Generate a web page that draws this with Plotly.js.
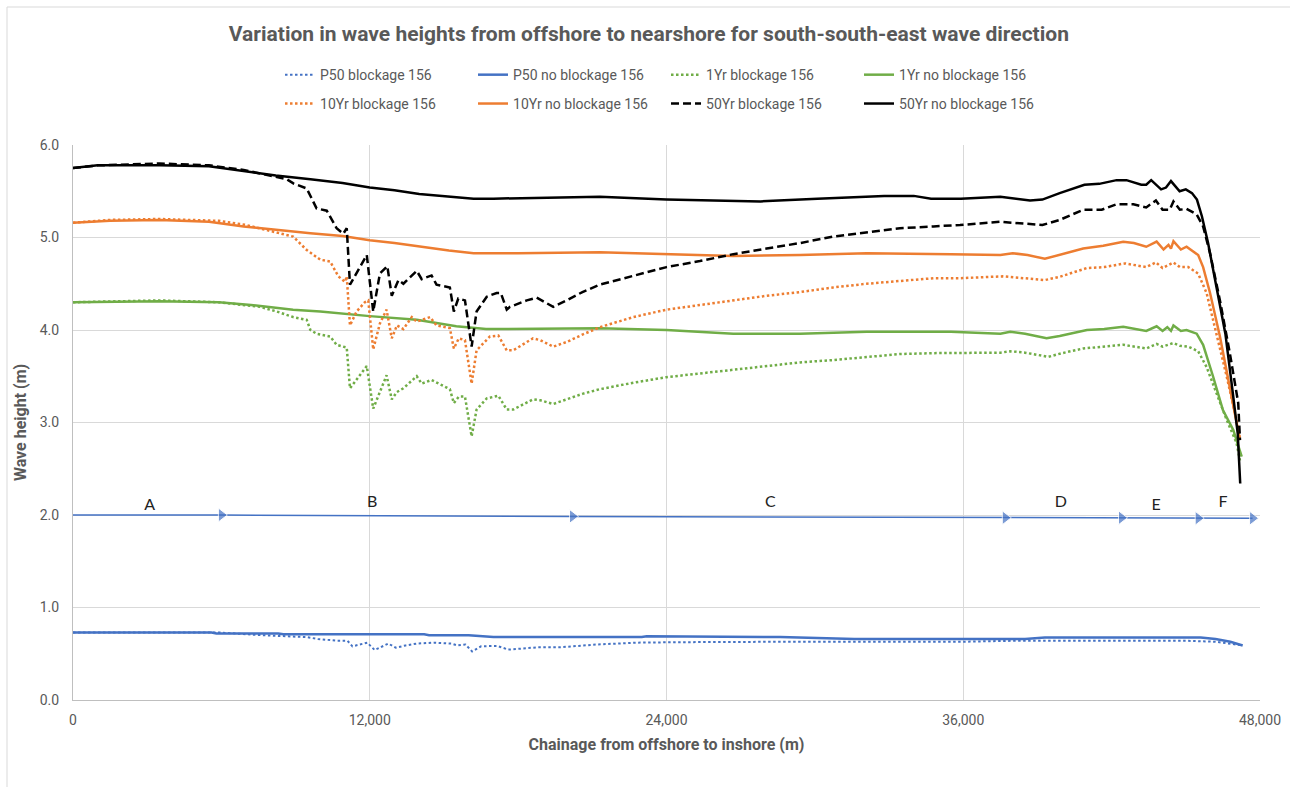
<!DOCTYPE html>
<html>
<head>
<meta charset="utf-8">
<script src="https://cdn.plot.ly/plotly-3.0.1.min.js"></script>
<style>
  html, body { margin: 0; padding: 0; background: #ffffff; }
  #chart { width: 1290px; height: 787px; }
</style>
</head>
<body>
<div id="chart"></div>
<script>
// ---------- Data (chainage in m, wave height in m) ----------
const p50BlockX = [0, 5900, 7670, 8500, 9440, 9900, 10700, 11100, 11300, 11900, 12200, 12750, 13050, 13450, 13900, 14600, 15300, 15550, 15870, 16140, 16500, 17150, 17600, 18100, 18800, 19700, 21200, 22800, 24500, 29000, 36000, 38000, 45000, 46200, 46800, 47300];
const p50BlockY = [0.73, 0.73, 0.70, 0.69, 0.68, 0.66, 0.64, 0.64, 0.58, 0.62, 0.54, 0.61, 0.565, 0.59, 0.61, 0.62, 0.61, 0.59, 0.60, 0.525, 0.58, 0.585, 0.545, 0.555, 0.57, 0.57, 0.60, 0.62, 0.625, 0.63, 0.63, 0.64, 0.64, 0.63, 0.61, 0.59];

const p50NoBlockX = [0, 5600, 5800, 8300, 8500, 14200, 14400, 16000, 17000, 23000, 23200, 28600, 31600, 38500, 39300, 45600, 46200, 46800, 47300];
const p50NoBlockY = [0.73, 0.73, 0.72, 0.72, 0.71, 0.71, 0.70, 0.70, 0.68, 0.68, 0.69, 0.68, 0.66, 0.66, 0.675, 0.675, 0.66, 0.63, 0.59];

const yr1BlockX = [0, 3500, 5900, 7560, 8240, 8900, 9450, 9600, 9850, 10400, 10660, 11070, 11200, 11880, 12140, 12680, 12890, 13100, 13360, 13900, 14100, 14500, 15240, 15400, 15600, 15850, 16120, 16320, 16730, 17200, 17540, 17800, 18600, 18900, 19420, 19960, 20600, 21300, 22660, 24000, 25350, 26700, 28050, 29400, 30740, 32100, 33440, 34800, 35870, 37500, 37900, 38500, 39440, 40000, 40850, 41700, 42470, 43400, 43820, 44060, 44500, 44760, 45100, 45500, 45840, 46250, 46650, 47050, 47190];
const yr1BlockY = [4.30, 4.32, 4.30, 4.25, 4.20, 4.14, 4.11, 4.00, 3.96, 3.93, 3.84, 3.81, 3.37, 3.61, 3.15, 3.51, 3.25, 3.33, 3.37, 3.50, 3.42, 3.46, 3.36, 3.21, 3.28, 3.28, 2.85, 3.14, 3.26, 3.29, 3.14, 3.14, 3.25, 3.24, 3.20, 3.25, 3.31, 3.36, 3.43, 3.49, 3.53, 3.57, 3.61, 3.65, 3.675, 3.71, 3.74, 3.75, 3.755, 3.755, 3.77, 3.755, 3.71, 3.75, 3.80, 3.82, 3.84, 3.80, 3.85, 3.82, 3.86, 3.83, 3.82, 3.77, 3.60, 3.31, 3.03, 2.78, 2.59];

const yr1NoBlockX = [0, 3500, 5900, 7200, 8900, 10000, 12000, 13900, 15500, 16700, 21300, 24000, 26700, 29400, 32100, 35500, 37500, 37900, 38500, 39370, 39900, 41000, 41700, 42470, 43400, 43820, 44060, 44250, 44400, 44500, 44800, 45030, 45440, 45700, 46100, 46500, 46920, 47260];
const yr1NoBlockY = [4.30, 4.31, 4.30, 4.27, 4.22, 4.20, 4.15, 4.11, 4.04, 4.01, 4.02, 4.00, 3.96, 3.96, 3.98, 3.98, 3.96, 3.98, 3.96, 3.91, 3.935, 4.00, 4.01, 4.036, 3.99, 4.04, 3.99, 4.03, 3.99, 4.05, 3.99, 4.00, 3.96, 3.84, 3.50, 3.135, 2.92, 2.63];

const yr10BlockX = [0, 1500, 3500, 5900, 7000, 8200, 8900, 9450, 10000, 10400, 10730, 11000, 11070, 11200, 11470, 11800, 11940, 12140, 12410, 12680, 12890, 13100, 13360, 13700, 13900, 14440, 14700, 15240, 15400, 15600, 15850, 16120, 16320, 16860, 17200, 17540, 17800, 18600, 18900, 19420, 19960, 20600, 21300, 22660, 24000, 25350, 26700, 28050, 29400, 30740, 32100, 33440, 34800, 35870, 37600, 39300, 39900, 41000, 41700, 42540, 43400, 43790, 44060, 44500, 44760, 45100, 45500, 45840, 46250, 46650, 47050, 47190];
const yr10BlockY = [5.16, 5.19, 5.20, 5.18, 5.135, 5.06, 5.01, 4.865, 4.76, 4.74, 4.58, 4.52, 4.58, 4.05, 4.20, 4.30, 4.32, 3.79, 4.07, 4.22, 3.91, 4.05, 4.01, 4.14, 4.09, 4.14, 4.05, 4.02, 3.80, 3.91, 3.89, 3.42, 3.78, 3.93, 3.94, 3.78, 3.78, 3.91, 3.89, 3.82, 3.87, 3.95, 4.03, 4.14, 4.22, 4.27, 4.32, 4.37, 4.41, 4.46, 4.50, 4.53, 4.56, 4.56, 4.58, 4.54, 4.575, 4.67, 4.68, 4.72, 4.68, 4.73, 4.67, 4.73, 4.68, 4.68, 4.61, 4.40, 3.96, 3.50, 3.03, 2.82];

const yr10NoBlockX = [0, 1500, 3500, 5500, 6900, 8200, 9600, 10900, 12000, 13000, 14000, 15200, 16200, 18000, 21300, 24000, 26700, 29400, 32100, 35500, 37500, 38000, 38600, 39300, 39900, 40850, 41660, 42470, 42900, 43400, 43820, 44100, 44300, 44400, 44500, 44800, 45030, 45500, 45700, 45980, 46380, 46780, 47190];
const yr10NoBlockY = [5.16, 5.18, 5.19, 5.17, 5.12, 5.08, 5.045, 5.016, 4.97, 4.94, 4.90, 4.86, 4.83, 4.83, 4.84, 4.82, 4.80, 4.81, 4.83, 4.82, 4.81, 4.83, 4.81, 4.77, 4.81, 4.88, 4.91, 4.955, 4.94, 4.90, 4.955, 4.87, 4.92, 4.88, 4.96, 4.87, 4.90, 4.81, 4.68, 4.40, 3.93, 3.39, 2.81];

const yr50BlockX = [0, 1000, 3500, 5500, 6900, 8100, 8640, 8910, 9450, 9850, 10260, 10660, 10930, 11070, 11200, 11880, 12140, 12410, 12710, 12890, 13160, 13360, 13900, 14100, 14500, 14700, 15240, 15400, 15580, 15850, 16120, 16320, 16730, 17130, 17300, 17540, 17670, 18350, 18750, 19020, 19420, 19960, 20600, 21300, 22660, 24000, 25350, 26700, 28050, 29400, 30740, 32100, 33440, 34800, 35870, 37500, 38970, 39200, 39900, 40850, 41600, 42200, 42880, 43400, 43790, 44060, 44350, 44500, 44760, 45030, 45440, 45700, 45980, 46380, 46780, 47120, 47190];
const yr50BlockY = [5.75, 5.78, 5.80, 5.78, 5.73, 5.66, 5.63, 5.585, 5.53, 5.315, 5.29, 5.10, 5.04, 5.10, 4.49, 4.81, 4.20, 4.61, 4.69, 4.37, 4.54, 4.50, 4.64, 4.55, 4.59, 4.49, 4.46, 4.20, 4.34, 4.32, 3.82, 4.20, 4.36, 4.40, 4.40, 4.22, 4.25, 4.32, 4.35, 4.31, 4.25, 4.32, 4.41, 4.49, 4.59, 4.68, 4.745, 4.82, 4.88, 4.94, 5.01, 5.055, 5.10, 5.12, 5.135, 5.17, 5.135, 5.135, 5.19, 5.30, 5.30, 5.36, 5.36, 5.325, 5.40, 5.30, 5.30, 5.39, 5.30, 5.31, 5.25, 5.12, 4.83, 4.32, 3.75, 3.21, 2.81];

const yr50NoBlockX = [0, 1000, 2000, 3500, 5500, 6900, 8200, 9600, 10900, 12000, 13000, 14000, 15200, 16200, 17000, 19000, 21300, 24000, 25400, 27800, 30100, 32800, 34000, 34700, 35900, 37500, 38700, 39200, 39900, 40900, 41500, 42200, 42600, 43200, 43400, 43600, 44000, 44200, 44400, 44750, 45000, 45250, 45450, 45650, 45900, 46250, 46600, 46900, 47100, 47200];
const yr50NoBlockY = [5.75, 5.78, 5.78, 5.78, 5.77, 5.72, 5.67, 5.63, 5.59, 5.54, 5.51, 5.47, 5.44, 5.42, 5.42, 5.43, 5.44, 5.41, 5.40, 5.39, 5.42, 5.45, 5.45, 5.42, 5.42, 5.44, 5.40, 5.41, 5.48, 5.57, 5.58, 5.62, 5.62, 5.57, 5.57, 5.62, 5.52, 5.54, 5.61, 5.50, 5.52, 5.48, 5.41, 5.23, 4.94, 4.47, 3.96, 3.32, 2.88, 2.34];

// Zone arrow line (A–F) and its labels
const zoneArrowX = [0, 6000, 20200, 37700, 42400, 45500, 47700];
const zoneArrowY = [2.0, 2.0, 1.985, 1.97, 1.97, 1.965, 1.965];
const zoneLabels = ['A', 'B', 'C', 'D', 'E', 'F'];
const zoneLabelX = [3100, 12100, 28200, 39950, 43800, 46500];
const zoneLabelY = [2.10, 2.13, 2.13, 2.13, 2.10, 2.13];

const xTickVals = [0, 12000, 24000, 36000, 48000];
const yTickVals = [0, 1, 2, 3, 4, 5, 6];

// ---------- Styling ----------
const BLUE = '#4472C4', ORANGE = '#ED7D31', GREEN = '#70AD47', BLACK = '#000000';
const GREY = '#595959';
const DOT = '2.5px,2.5px';
const FONT = 'Roboto, "Liberation Sans", Arial, sans-serif';

function series(name, x, y, color, dash, width, legend) {
  return {
    type: 'scatter', mode: 'lines', name: name, x: x, y: y,
    line: { color: color, dash: dash, width: width },
    legend: legend, hoverinfo: 'x+y+name'
  };
}

const traces = [
  {
    type: 'scatter', mode: 'lines+markers', x: zoneArrowX, y: zoneArrowY,
    line: { color: BLUE, width: 1.5 },
    marker: { symbol: 'triangle-right', color: BLUE, size: zoneArrowX.map((v, i) => i === 0 ? 0 : 12) },
    showlegend: false, hoverinfo: 'skip'
  },
  {
    type: 'scatter', mode: 'text', x: zoneLabelX, y: zoneLabelY, text: zoneLabels,
    textfont: { family: 'Lato, "Noto Sans", sans-serif', size: 16, color: '#222222' },
    textposition: 'middle center', showlegend: false, hoverinfo: 'skip'
  },
  series('P50 blockage 156', p50BlockX, p50BlockY, BLUE, DOT, 2, 'legend'),
  series('P50 no blockage 156', p50NoBlockX, p50NoBlockY, BLUE, 'solid', 2.5, 'legend'),
  series('1Yr blockage 156', yr1BlockX, yr1BlockY, GREEN, DOT, 2.5, 'legend'),
  series('1Yr no blockage 156', yr1NoBlockX, yr1NoBlockY, GREEN, 'solid', 2.5, 'legend'),
  series('10Yr blockage 156', yr10BlockX, yr10BlockY, ORANGE, DOT, 2.5, 'legend2'),
  series('10Yr no blockage 156', yr10NoBlockX, yr10NoBlockY, ORANGE, 'solid', 2.5, 'legend2'),
  series('50Yr blockage 156', yr50BlockX, yr50BlockY, BLACK, '8px,4px', 2.5, 'legend2'),
  series('50Yr no blockage 156', yr50NoBlockX, yr50NoBlockY, BLACK, 'solid', 2.5, 'legend2')
];

const legendBase = {
  orientation: 'h', xanchor: 'left', yanchor: 'middle',
  entrywidth: 148, entrywidthmode: 'pixels',
  font: { family: FONT, size: 14, color: GREY },
  bgcolor: 'rgba(0,0,0,0)', borderwidth: 0
};

const layout = {
  width: 1290, height: 787,
  margin: { l: 73, r: 30, t: 145, b: 87, autoexpand: false },
  paper_bgcolor: '#ffffff', plot_bgcolor: '#ffffff',
  title: {
    text: '<b>Variation in wave heights from offshore to nearshore for south-south-east wave direction</b>',
    font: { family: FONT, size: 21, color: GREY },
    x: 0.503, xanchor: 'center', y: 0.957, yanchor: 'middle'
  },
  showlegend: true,
  legend: Object.assign({}, legendBase, { x: 0.1744, y: 1.126 }),
  legend2: Object.assign({}, legendBase, { x: 0.1744, y: 1.074 }),
  xaxis: {
    range: [0, 48000], tickvals: xTickVals, tickformat: ',.0f',
    showgrid: true, gridcolor: '#d9d9d9', gridwidth: 1, zeroline: false,
    showline: true, linecolor: '#bfbfbf', linewidth: 1,
    ticks: 'outside', ticklen: 7, tickcolor: 'rgba(0,0,0,0)',
    tickfont: { family: FONT, size: 14, color: GREY },
    title: { text: '<b>Chainage from offshore to inshore (m)</b>', font: { family: FONT, size: 16, color: GREY }, standoff: 12 },
    fixedrange: true
  },
  yaxis: {
    range: [0, 6], tickvals: yTickVals, tickformat: '.1f',
    showgrid: true, gridcolor: '#d9d9d9', gridwidth: 1, zeroline: false,
    showline: true, linecolor: '#bfbfbf', linewidth: 1,
    ticks: 'outside', ticklen: 10, tickcolor: 'rgba(0,0,0,0)',
    tickfont: { family: FONT, size: 14, color: GREY },
    title: { text: '<b>Wave height (m)</b>', font: { family: FONT, size: 16, color: GREY }, standoff: 9 },
    fixedrange: true
  },
  shapes: [{
    type: 'rect', xref: 'paper', yref: 'paper',
    x0: (7 - 73) / 1187, x1: (1300 - 73) / 1187,
    y0: (700 - 800) / 555, y1: (700 - 7) / 555,
    line: { color: '#d9d9d9', width: 1 }, fillcolor: 'rgba(0,0,0,0)', layer: 'below'
  }]
};

Plotly.newPlot('chart', traces, layout, { displayModeBar: false, staticPlot: true });
</script>
</body>
</html>
